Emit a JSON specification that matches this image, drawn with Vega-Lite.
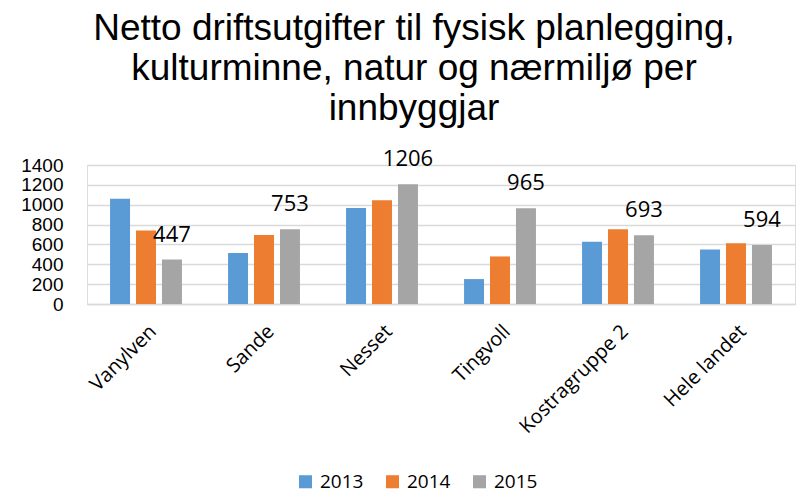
{
  "$schema": "https://vega.github.io/schema/vega-lite/v6.json",
  "width": 708,
  "height": 139,
  "autosize": {"type": "none"},
  "padding": {"left": 87, "top": 165, "right": 1, "bottom": 189},
  "background": "white",
  "title": {
    "text": ["Netto driftsutgifter til fysisk planlegging,", "kulturminne, natur og nærmiljø per", "innbyggjar"],
    "font": "Liberation Sans",
    "fontSize": 37,
    "fontWeight": "normal",
    "lineHeight": 40,
    "color": "#000000",
    "anchor": "middle",
    "dx": -27,
    "offset": 20
  },
  "data": {
    "values": [
      {"kommune": "Vanylven", "year": "2013", "value": 1059},
      {"kommune": "Vanylven", "year": "2014", "value": 740},
      {"kommune": "Vanylven", "year": "2015", "value": 447},
      {"kommune": "Sande", "year": "2013", "value": 513},
      {"kommune": "Sande", "year": "2014", "value": 696},
      {"kommune": "Sande", "year": "2015", "value": 753},
      {"kommune": "Nesset", "year": "2013", "value": 968},
      {"kommune": "Nesset", "year": "2014", "value": 1046},
      {"kommune": "Nesset", "year": "2015", "value": 1206},
      {"kommune": "Tingvoll", "year": "2013", "value": 251},
      {"kommune": "Tingvoll", "year": "2014", "value": 479},
      {"kommune": "Tingvoll", "year": "2015", "value": 965},
      {"kommune": "Kostragruppe 2", "year": "2013", "value": 628},
      {"kommune": "Kostragruppe 2", "year": "2014", "value": 754},
      {"kommune": "Kostragruppe 2", "year": "2015", "value": 693},
      {"kommune": "Hele landet", "year": "2013", "value": 550},
      {"kommune": "Hele landet", "year": "2014", "value": 611},
      {"kommune": "Hele landet", "year": "2015", "value": 594}
    ]
  },
  "encoding": {
    "x": {
      "field": "kommune",
      "type": "nominal",
      "sort": null,
      "scale": {"paddingInner": 0.34, "paddingOuter": 0.17},
      "axis": {
        "title": null,
        "labelAngle": -45,
        "labelFont": "Open Sans",
        "labelFontSize": 20,
        "labelColor": "#000000",
        "labelPadding": 17,
        "ticks": false,
        "grid": false,
        "domainColor": "#D9D9D9",
        "domainWidth": 1.5
      }
    },
    "xOffset": {
      "field": "year",
      "type": "nominal",
      "scale": {"paddingInner": 0.23, "paddingOuter": 0.115}
    },
    "y": {
      "field": "value",
      "type": "quantitative",
      "scale": {"domain": [0, 1400], "nice": false},
      "axis": {
        "title": null,
        "values": [0, 200, 400, 600, 800, 1000, 1200, 1400],
        "format": "d",
        "labelOverlap": false,
        "labelFont": "Liberation Sans",
        "labelFontSize": 19,
        "labelColor": "#000000",
        "labelPadding": 24,
        "ticks": false,
        "domain": false,
        "gridColor": "#D9D9D9",
        "gridWidth": 1.5
      }
    }
  },
  "layer": [
    {
      "mark": {"type": "bar"},
      "encoding": {
        "color": {
          "field": "year",
          "type": "nominal",
          "scale": {"domain": ["2013", "2014", "2015"], "range": ["#5B9BD5", "#ED7D31", "#A5A5A5"]},
          "legend": {
            "title": null,
            "orient": "none",
            "direction": "horizontal",
            "legendX": 209,
            "legendY": 307,
            "symbolType": "square",
            "symbolSize": 170,
            "symbolStrokeWidth": 0,
            "labelFont": "Open Sans",
            "labelFontSize": 19,
            "labelColor": "#000000",
            "columnPadding": 19,
            "labelOffset": 5
          }
        }
      }
    },
    {
      "transform": [{"filter": "datum.year == '2015'"}],
      "mark": {"type": "text", "baseline": "middle", "dy": -25, "font": "Open Sans", "fontSize": 22, "color": "#000000"},
      "encoding": {
        "text": {"field": "value", "type": "quantitative"}
      }
    }
  ]
}
